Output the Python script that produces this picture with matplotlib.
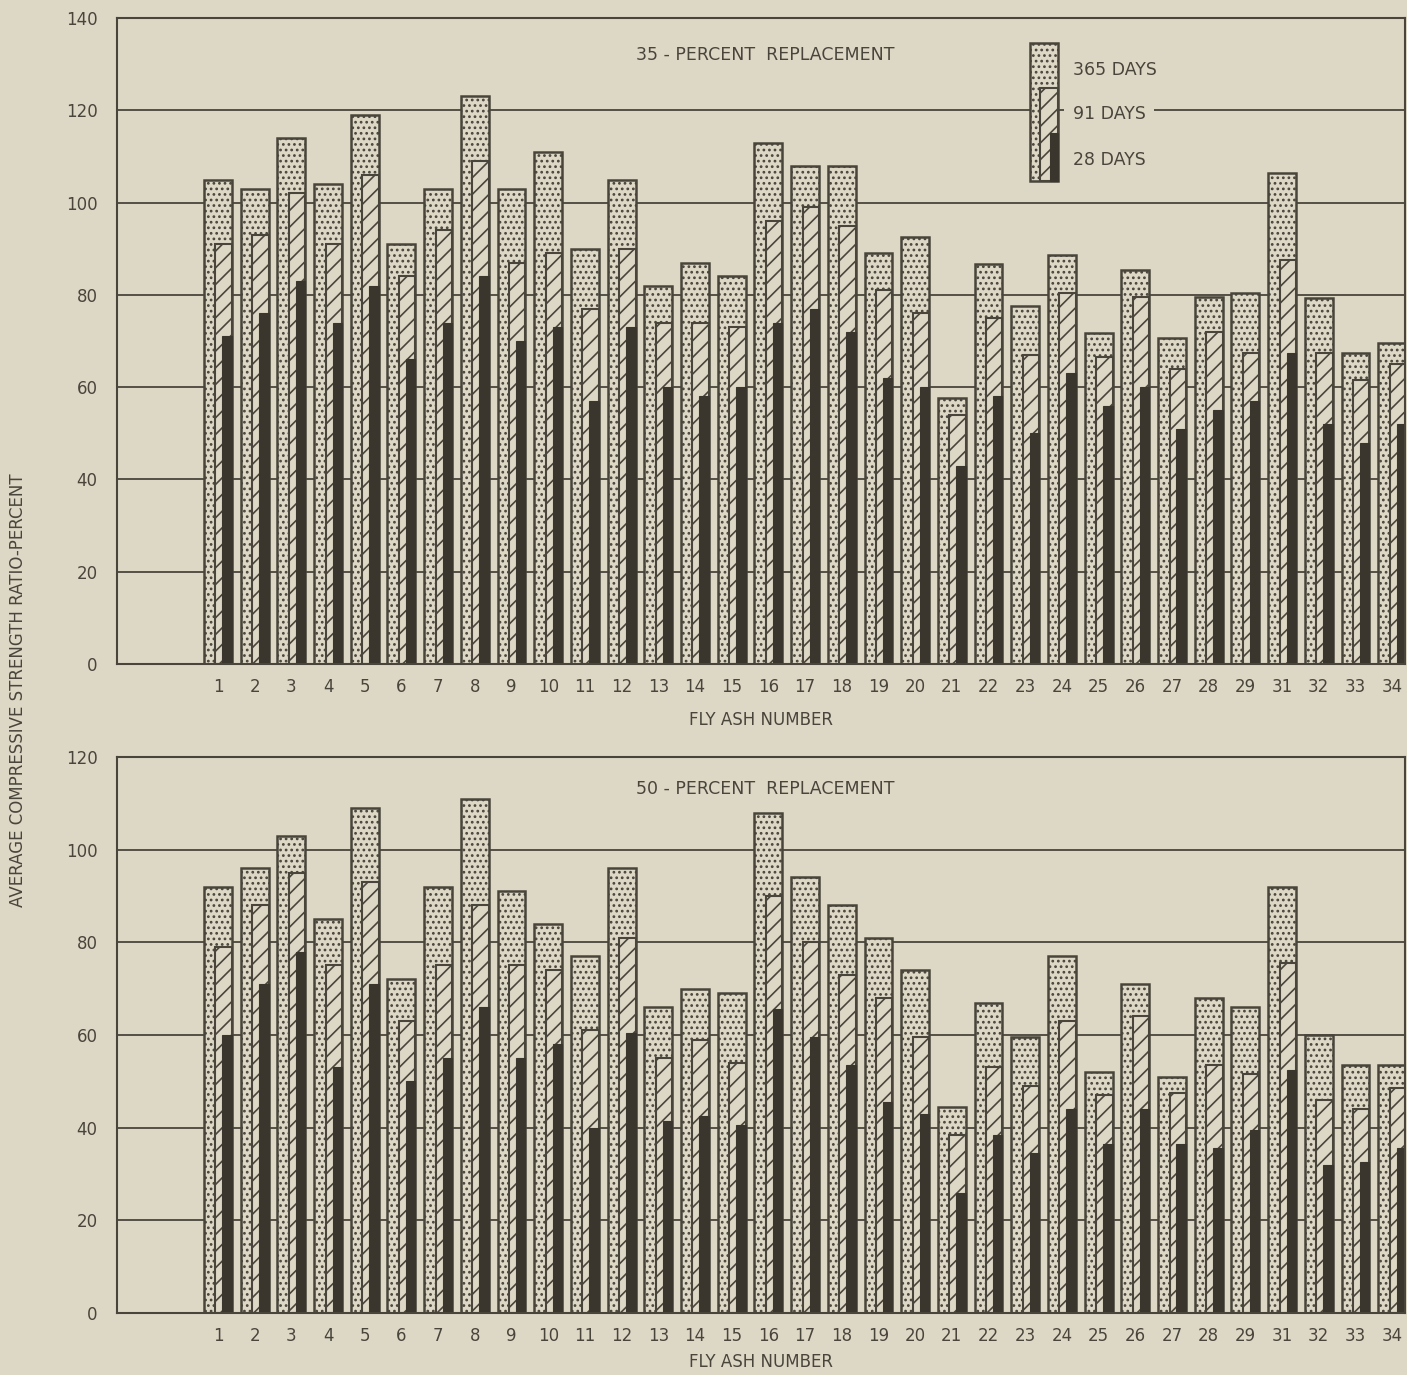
import matplotlib.pyplot as plt
import numpy as np
from matplotlib.patches import Rectangle

# fly ash numbers (no 30 in the series)
ash = [str(i) for i in range(1, 30)] + ["31", "32", "33", "34"]

# 35-percent replacement
top_365 = [105, 103, 114, 104, 119, 91, 103, 123, 103, 111,
           90, 105, 82, 87, 84, 113, 108, 108, 89, 92.6,
           57.6, 86.7, 77.6, 88.6, 71.7, 85.4, 70.6, 79.6, 80.4,
           106.4, 79.3, 67.4, 69.6]
top_91 = [91, 93, 102, 91, 106, 84, 94, 109, 87, 89,
          77, 90, 74, 74, 73, 96, 99, 95, 81, 76,
          54, 75, 67, 80.5, 66.5, 79.5, 64, 72, 67.5,
          87.5, 67.5, 61.5, 65]
top_28 = [71, 76, 83, 74, 82, 66, 74, 84, 70, 73,
          57, 73, 60, 58, 60, 74, 77, 72, 62, 60,
          43, 58, 50, 63, 56, 60, 51, 55, 57,
          67.5, 52, 48, 52]

# 50-percent replacement
bot_365 = [92, 96, 103, 85, 109, 72, 92, 111, 91, 84,
           77, 96, 66, 70, 69, 108, 94, 88, 81, 74,
           44.5, 67, 59.5, 77, 52, 71, 51, 68, 66,
           92, 60, 53.5, 53.5]
bot_91 = [79, 88, 95, 75, 93, 63, 75, 88, 75, 74,
          61, 81, 55, 59, 54, 90, 80, 73, 68, 59.5,
          38.5, 53, 49, 63, 47, 64, 47.5, 53.5, 51.5,
          75.5, 46, 44, 48.5]
bot_28 = [60, 71, 78, 53, 71, 50, 55, 66, 55, 58,
          40, 60.5, 41.5, 42.5, 40.5, 65.5, 59.5, 53.5, 45.5, 43,
          26, 38.5, 34.5, 44, 36.5, 44, 36.5, 35.5, 39.5,
          52.5, 32, 32.5, 35.5]

bg = "#ddd8c6"
ink = "#4a453b"
dark = "#3a362e"

plt.rcParams["hatch.linewidth"] = 1.2

fig = plt.figure(figsize=(14.07, 13.75), dpi=100, facecolor=bg)
ax1 = fig.add_axes([0.0832, 0.5171, 0.9154, 0.4698])
ax2 = fig.add_axes([0.0832, 0.0451, 0.9154, 0.4044])

x = np.arange(len(ash))
w = 0.76


def draw(ax, d365, d91, d28, ymax, title, lpad):
    ax.set_facecolor(bg)
    ax.bar(x - w / 2, d365, width=w, align="edge", color=bg,
           edgecolor=ink, hatch="...", linewidth=1.8)
    ax.bar(x - w / 2 + 0.41 * w, d91, width=0.59 * w, align="edge", color=bg,
           edgecolor=ink, hatch="//", linewidth=1.5)
    ax.bar(x - w / 2 + 0.66 * w, d28, width=0.34 * w, align="edge",
           color=dark, edgecolor=dark, linewidth=0.8)
    ax.set_xlim(-2.75, 32.35)
    ax.set_ylim(0, ymax)
    ax.set_yticks(range(0, ymax + 1, 20))
    ax.set_xticks(x, ash)
    ax.yaxis.grid(True, color=ink, linewidth=1.3)
    ax.set_axisbelow(True)
    ax.tick_params(axis="y", length=0, pad=14, labelsize=12, colors=ink)
    ax.tick_params(axis="x", length=0, pad=10, labelsize=12, colors=ink)
    for s in ax.spines.values():
        s.set_color(ink)
        s.set_linewidth(1.5)
    ax.set_xlabel("FLY ASH NUMBER", fontsize=12, color=ink, labelpad=lpad)
    ax.text(0.503, 0.943, title, transform=ax.transAxes, ha="center",
            va="center", fontsize=12.5, color=ink)


draw(ax1, top_365, top_91, top_28, 140, "35 - PERCENT  REPLACEMENT", 11)
draw(ax2, bot_365, bot_91, bot_28, 120, "50 - PERCENT  REPLACEMENT", 6)

# key drawn as a small sample bar
lx, lw, lb = 0.709, 0.0217, 0.748
ax1.add_patch(Rectangle((lx, lb), lw, 0.961 - lb, transform=ax1.transAxes,
                        facecolor=bg, edgecolor=ink, hatch="...", lw=1.8, zorder=3))
ax1.add_patch(Rectangle((lx + 0.36 * lw, lb), 0.64 * lw, 0.892 - lb,
                        transform=ax1.transAxes, facecolor=bg, edgecolor=ink,
                        hatch="//", lw=1.5, zorder=4))
ax1.add_patch(Rectangle((lx + 0.70 * lw, lb), 0.30 * lw, 0.822 - lb,
                        transform=ax1.transAxes, facecolor=dark, edgecolor=dark,
                        lw=0.8, zorder=5))
for txt, ty in [("365 DAYS", 0.919), ("91 DAYS", 0.851), ("28 DAYS", 0.780)]:
    ax1.text(0.742, ty, txt, transform=ax1.transAxes, ha="left", va="center",
             fontsize=12.5, color=ink, zorder=6,
             bbox=dict(facecolor=bg, edgecolor="none", pad=6))

fig.text(0.013, 0.498, "AVERAGE COMPRESSIVE STRENGTH RATIO-PERCENT",
         rotation=90, ha="center", va="center", fontsize=12, color=ink)

fig.savefig("out.png", dpi=100, facecolor=bg)
